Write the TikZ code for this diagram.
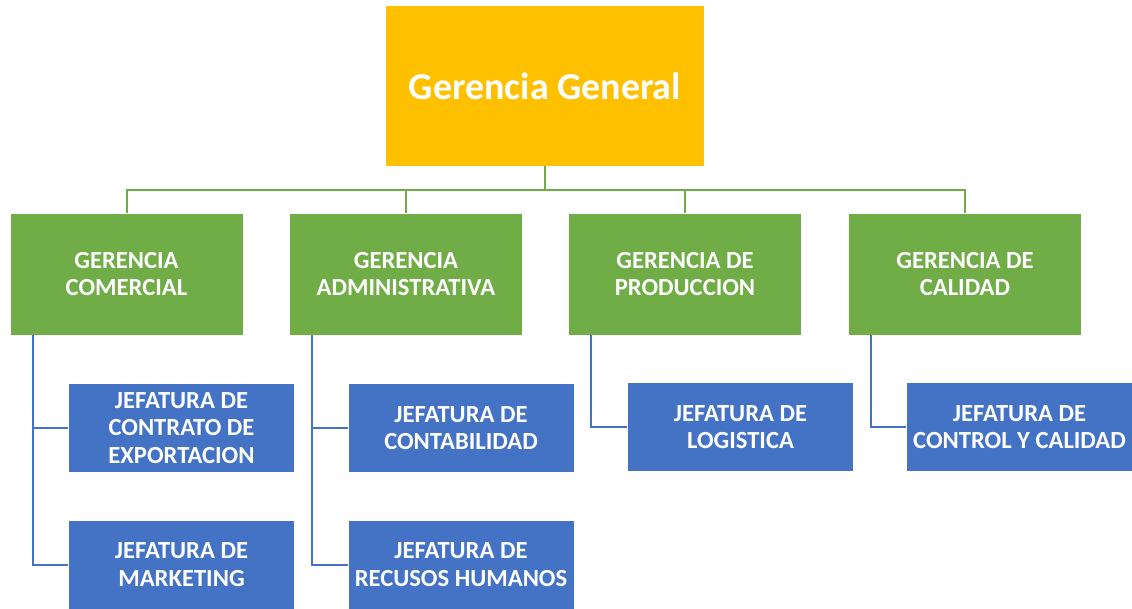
\documentclass[tikz,border=0pt]{standalone}
\usepackage{fontspec}
\setmainfont{Carlito}
\usetikzlibrary{positioning,calc}
\definecolor{gold}{HTML}{FFC000}
\definecolor{leaf}{HTML}{70AD47}
\definecolor{steel}{HTML}{4472C4}

\begin{document}
\begin{tikzpicture}[x=1pt,y=-1pt,
  gerbox/.style={fill=leaf, draw=white, line width=0.6pt, text=white, font=\fontsize{24.6}{27.5}\selectfont\bfseries,
    minimum width=233, minimum height=122, align=center, inner sep=0pt},
  jefbox/.style={fill=steel, draw=white, line width=0.6pt, text=white, font=\fontsize{24.6}{27.5}\selectfont\bfseries,
    minimum width=226, minimum height=89, align=center, inner sep=0pt},
  gline/.style={draw=leaf, line width=2pt},
  bline/.style={draw=steel, line width=2pt}]
  \useasboundingbox (0,0) rectangle (1132,609);
  \node [fill=gold, text=white, minimum width=318, minimum height=160, inner sep=0pt,
    font=\fontsize{38}{44}\selectfont\bfseries] (gerGen) at (545,86) {Gerencia General};

  \node [gerbox] (gerCom) at (126.5,274) {GERENCIA\\COMERCIAL};
  \node [gerbox] (gerAdm) at (406,274) {GERENCIA\\ADMINISTRATIVA};
  \node [gerbox] (gerProd) at (685,274) {GERENCIA DE\\PRODUCCION};
  \node [gerbox] (gerCal) at (965,274) {GERENCIA DE\\CALIDAD};

  \node [jefbox] (jefExp) at (181.5,428) {JEFATURA DE\\CONTRATO DE\\EXPORTACION};
  \node [jefbox] (jefMkt) at (181.5,564.5) {JEFATURA DE\\MARKETING};
  \node [jefbox] (jefCont) at (461,428) {JEFATURA DE\\CONTABILIDAD};
  \node [jefbox] (jefRRHH) at (461,564.5) {JEFATURA DE\\RECUSOS HUMANOS};
  \node [jefbox] (jefLog) at (740.5,427) {JEFATURA DE\\LOGISTICA};
  \node [jefbox] (jefCtrl) at (1019.5,427) {JEFATURA DE\\CONTROL Y CALIDAD};

  \foreach \g in {gerCom,gerAdm,gerProd,gerCal}
    \draw [gline] (gerGen.south) -- ++(0,24) -| (\g.north);

  \draw [bline] ($(gerCom.south west)+(23,0)$) |- (jefExp.west);
  \draw [bline] ($(gerCom.south west)+(23,0)$) |- (jefMkt.west);
  \draw [bline] ($(gerAdm.south west)+(22.5,0)$) |- (jefCont.west);
  \draw [bline] ($(gerAdm.south west)+(22.5,0)$) |- (jefRRHH.west);
  \draw [bline] ($(gerProd.south west)+(23,0)$) |- (jefLog.west);
  \draw [bline] ($(gerCal.south west)+(22.5,0)$) |- (jefCtrl.west);
\end{tikzpicture}
\end{document}
